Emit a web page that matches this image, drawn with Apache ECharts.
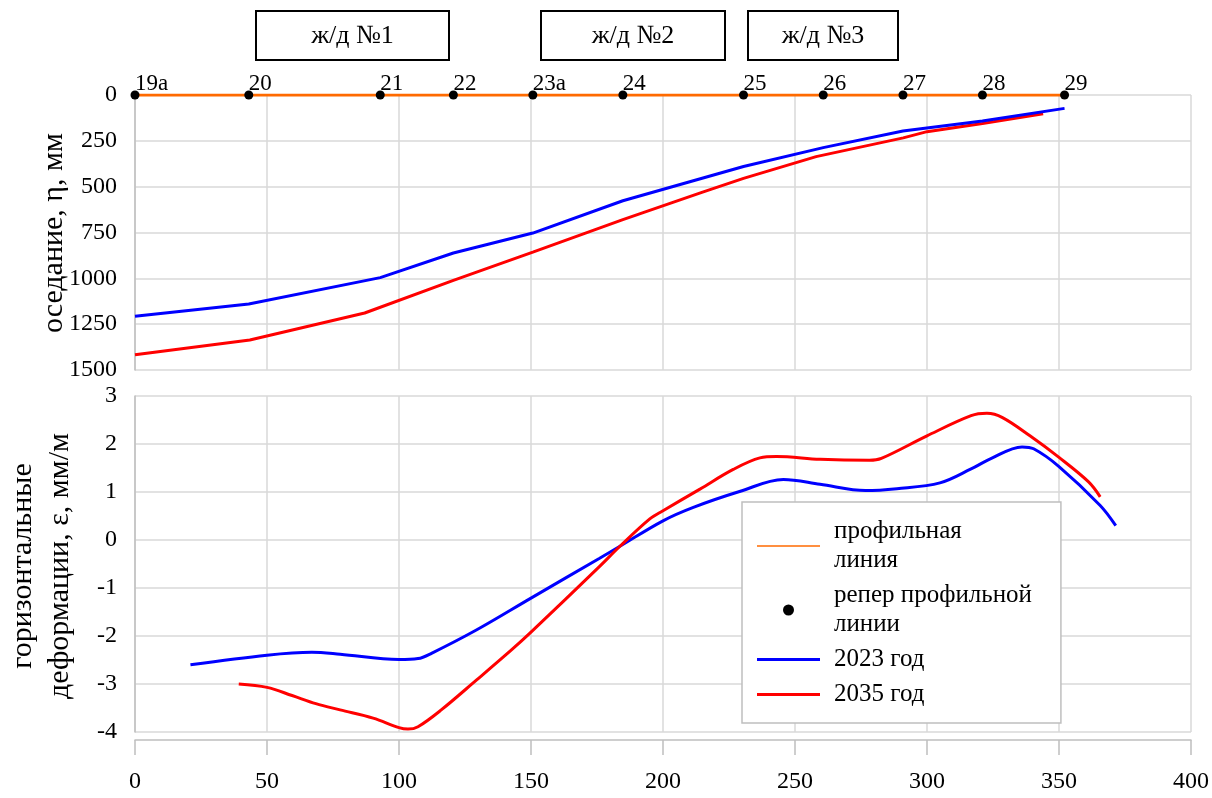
<!DOCTYPE html>
<html><head><meta charset="utf-8">
<script src="https://cdn.jsdelivr.net/npm/echarts@6/dist/echarts.min.js"></script>
<style>html,body{margin:0;padding:0;background:#fff}#c{width:1212px;height:798px}</style>
</head><body><div id="c"></div>
<script>
// Benchmarks of the profile line
const benchX = [0, 43.1, 92.9, 120.6, 150.7, 184.8, 230.5, 260.7, 290.9, 321, 352.1];
const benchNames = ['19а','20','21','22','23а','24','25','26','27','28','29'];

// Subsidence, mm
const sub2023X = [0, 43.1, 92.9, 120.6, 150.7, 184.8, 230.5, 260.7, 290.9, 321, 352.1];
const sub2023Y = [1207, 1140, 996, 862, 753, 577, 390, 287, 196, 142, 73];
const sub2035X = [0, 43.5, 87, 120.6, 150.7, 184.8, 215, 230.5, 258, 291, 300, 321, 344];
const sub2035Y = [1417, 1336, 1189, 1011, 857, 680, 530, 455, 336, 234, 200, 156, 102];

// Horizontal strain, mm/m
const eps2023X = [21, 50, 67, 77.7, 100, 107.2, 112.3, 129.3, 150, 176, 183.7, 200, 211.5, 229, 245.6, 259.5, 276.7, 288.6, 304.9, 316.7, 324, 336, 340.4, 350, 365.6, 371.5];
const eps2023Y = [-2.60, -2.40, -2.34, -2.38, -2.49, -2.47, -2.36, -1.875, -1.21, -0.38, -0.13, 0.40, 0.68, 1.01, 1.26, 1.16, 1.03, 1.07, 1.19, 1.48, 1.69, 1.94, 1.90, 1.53, 0.72, 0.30];
const eps2035X = [39.3, 50, 59.5, 68.5, 77.7, 90.2, 100, 103.4, 107.2, 116, 129.3, 142.6, 150, 176, 183.7, 195, 200, 214, 226.6, 236.7, 243, 259.5, 278.2, 282.7, 300, 316.7, 322.7, 328.6, 339, 350, 361.2, 365.6];
const eps2035Y = [-3.0, -3.07, -3.24, -3.41, -3.54, -3.71, -3.91, -3.94, -3.89, -3.54, -2.92, -2.29, -1.92, -0.55, -0.13, 0.44, 0.61, 1.06, 1.47, 1.71, 1.74, 1.68, 1.66, 1.70, 2.17, 2.59, 2.64, 2.55, 2.17, 1.72, 1.21, 0.90];

const railLabels = ['ж/д №1', 'ж/д №2', 'ж/д №3'];
const legendNames = ['профильная линия', 'репер профильной линии', '2023 год', '2035 год'];
const legendText = {'профильная линия': 'профильная\nлиния', 'репер профильной линии': 'репер профильной\nлинии', '2023 год': '2023 год', '2035 год': '2035 год'};

const zip = (xs, ys) => xs.map((x, i) => [x, ys[i]]);
const FF = '"Liberation Serif", "Times New Roman", serif';
const GRID = '#d9d9d9', AXIS = '#bfbfbf';

const chart = echarts.init(document.getElementById('c'), null, {renderer: 'canvas'});

function box(x, w, text) {
  return [
    {type: 'rect', shape: {x: x, y: 11, width: w, height: 49}, style: {fill: '#fff', stroke: '#000', lineWidth: 2}},
    {type: 'text', x: x + w / 2, y: 36, style: {text: text, font: '26px ' + FF, align: 'center', verticalAlign: 'middle', fill: '#000'}}
  ];
}
const plain = v => String(v);

const option = {
  animation: false,
  backgroundColor: '#fff',
  grid: [
    {left: 135, right: 21, top: 95, height: 275},
    {left: 135, right: 21, top: 396, height: 336}
  ],
  xAxis: [
    {gridIndex: 0, type: 'value', min: 0, max: 400, interval: 50,
     axisLabel: {show: false}, axisLine: {show: false}, axisTick: {show: false},
     splitLine: {show: true, lineStyle: {color: GRID, width: 1.5}}},
    {gridIndex: 1, type: 'value', min: 0, max: 400, interval: 50, offset: 8,
     axisLabel: {fontSize: 24, fontFamily: FF, color: '#000', margin: 30, formatter: plain},
     axisLine: {show: true, onZero: false, lineStyle: {color: AXIS, width: 1.5}},
     axisTick: {show: true, length: 15, lineStyle: {color: AXIS, width: 1.5}},
     splitLine: {show: true, lineStyle: {color: GRID, width: 1.5}}}
  ],
  yAxis: [
    {gridIndex: 0, type: 'value', inverse: true, min: 0, max: 1500, interval: 250,
     axisLabel: {fontSize: 24, fontFamily: FF, color: '#000', margin: 18, formatter: plain},
     axisLine: {show: true, onZero: false, lineStyle: {color: AXIS, width: 1.5}},
     axisTick: {show: false},
     splitLine: {show: true, lineStyle: {color: GRID, width: 1.5}}},
    {gridIndex: 1, type: 'value', min: -4, max: 3, interval: 1,
     axisLabel: {fontSize: 24, fontFamily: FF, color: '#000', margin: 18, formatter: plain},
     axisLine: {show: true, onZero: false, lineStyle: {color: AXIS, width: 1.5}},
     axisTick: {show: false},
     splitLine: {show: true, lineStyle: {color: GRID, width: 1.5}}}
  ],
  legend: {
    orient: 'vertical', left: 742, top: 502,
    padding: [15, 29, 14, 15],
    backgroundColor: '#fff', borderColor: AXIS, borderWidth: 1.5,
    itemGap: 6, itemWidth: 63, itemHeight: 11,
    selectedMode: false,
    data: [
      {name: legendNames[0], icon: 'path://M0,0H63V1.6H0Z'},
      {name: legendNames[1], icon: 'circle'},
      {name: legendNames[2], icon: 'path://M0,0H63V3H0Z'},
      {name: legendNames[3], icon: 'path://M0,0H63V3H0Z'}
    ],
    formatter: n => legendText[n],
    textStyle: {fontSize: 25, lineHeight: 29, fontFamily: FF, color: '#000', padding: [0, 0, 0, 9]}
  },
  series: [
    {name: legendNames[0], type: 'line', xAxisIndex: 0, yAxisIndex: 0,
     data: benchX.map(x => [x, 0]), symbol: 'none', z: 4,
     lineStyle: {color: '#ff6a00', width: 3}, itemStyle: {color: '#ff6a00'}},
    {name: legendNames[1], type: 'scatter', xAxisIndex: 0, yAxisIndex: 0,
     data: benchX.map(x => [x, 0]), symbol: 'circle', symbolSize: 9, z: 5,
     itemStyle: {color: '#000', opacity: 1},
     label: {show: true, formatter: p => benchNames[p.dataIndex], position: 'top', align: 'left',
             distance: -5, fontSize: 23, fontFamily: FF, color: '#000', opacity: 1}},
    {name: legendNames[3], type: 'line', xAxisIndex: 0, yAxisIndex: 0,
     data: zip(sub2035X, sub2035Y), symbol: 'none', z: 2,
     lineStyle: {color: '#ff0000', width: 3}, itemStyle: {color: '#ff0000'}},
    {name: legendNames[2], type: 'line', xAxisIndex: 0, yAxisIndex: 0,
     data: zip(sub2023X, sub2023Y), symbol: 'none', z: 3,
     lineStyle: {color: '#0000ff', width: 3}, itemStyle: {color: '#0000ff'}},
    {name: legendNames[2], type: 'line', xAxisIndex: 1, yAxisIndex: 1,
     data: zip(eps2023X, eps2023Y), symbol: 'none', smooth: 0.35, z: 2,
     lineStyle: {color: '#0000ff', width: 3}, itemStyle: {color: '#0000ff'}},
    {name: legendNames[3], type: 'line', xAxisIndex: 1, yAxisIndex: 1,
     data: zip(eps2035X, eps2035Y), symbol: 'none', smooth: 0.35, z: 3,
     lineStyle: {color: '#ff0000', width: 3}, itemStyle: {color: '#ff0000'}}
  ],
  graphic: [
    ...box(256, 193, railLabels[0]),
    ...box(541, 184, railLabels[1]),
    ...box(748, 150, railLabels[2]),
    {type: 'text', x: 54, y: 233, rotation: Math.PI / 2,
     style: {text: 'оседание, η, мм', font: '30px ' + FF, align: 'center', verticalAlign: 'middle', fill: '#000'}},
    {type: 'text', x: 42, y: 566, rotation: Math.PI / 2,
     style: {text: 'горизонтальные\nдеформации, ε, мм/м', font: '30px ' + FF, lineHeight: 37, align: 'center', verticalAlign: 'middle', fill: '#000'}}
  ]
};
chart.setOption(option);
</script></body></html>
